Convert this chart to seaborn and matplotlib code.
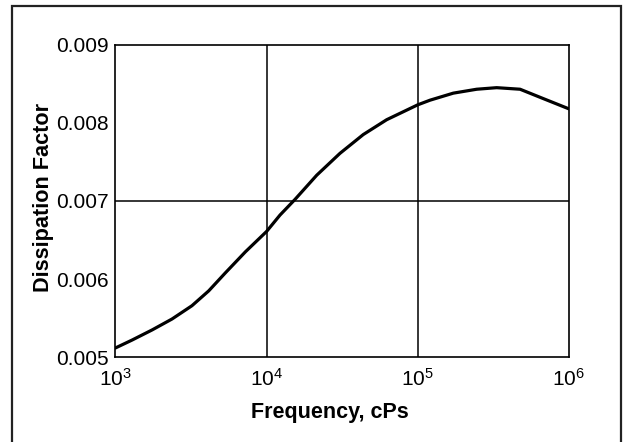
import matplotlib
matplotlib.use("Agg")
import matplotlib.pyplot as plt
from matplotlib.patches import Rectangle
import pandas as pd
import seaborn as sns

# Values
freq = [1000, 1285, 1746, 2366, 3206, 4140, 5333, 7244, 10000, 12270, 15420,
        21480, 30620, 43650, 62370, 100000, 120800, 172200, 246000, 333400,
        476400, 679200, 1000000]
dissipation = [0.00512, 0.00522, 0.00535, 0.00549, 0.00566, 0.00585, 0.00608,
               0.00635, 0.00661, 0.00682, 0.00702, 0.00733, 0.00761, 0.00785,
               0.00804, 0.00823, 0.00829, 0.00838, 0.00843, 0.00845, 0.00843,
               0.00831, 0.00818]

x_ticks = [1e3, 1e4, 1e5, 1e6]
x_tick_labels = [r"$\mathdefault{10^{3}}$", r"$\mathdefault{10^{4}}$",
                 r"$\mathdefault{10^{5}}$", r"$\mathdefault{10^{6}}$"]
y_ticks = [0.005, 0.006, 0.007, 0.008, 0.009]
y_tick_labels = ["0.005", "0.006", "0.007", "0.008", "0.009"]
grid_x = [1e4, 1e5]
grid_y = [0.007]

sns.set_theme(style="white")
plt.rcParams["font.family"] = ["Liberation Sans", "DejaVu Sans"]
plt.rcParams["mathtext.fontset"] = "custom"
plt.rcParams["mathtext.rm"] = "Liberation Sans"

df = pd.DataFrame({"freq": freq, "df": dissipation})

fig = plt.figure(figsize=(6.26, 4.42), dpi=100)
ax = fig.add_axes([0.1845, 0.1916, 0.724, 0.7073])

sns.lineplot(data=df, x="freq", y="df", ax=ax, color="black", linewidth=2.3)
ax.set_xscale("log")
ax.set_xlim(1e3, 1e6)
ax.set_ylim(0.005, 0.009)

for gx in grid_x:
    ax.axvline(gx, color="black", lw=1.1, zorder=1)
for gy in grid_y:
    ax.axhline(gy, color="black", lw=1.1, zorder=1)

ax.set_xticks(x_ticks)
ax.set_xticklabels(x_tick_labels)
ax.minorticks_off()
ax.set_yticks(y_ticks)
ax.set_yticklabels(y_tick_labels)
ax.tick_params(axis="y", direction="in", length=8, width=1.1, color="black",
               labelsize=15, pad=5, labelcolor="black")
ax.tick_params(axis="x", length=0, labelsize=15, pad=7.5, labelcolor="black")

for sp in ax.spines.values():
    sp.set_color("black")
    sp.set_linewidth(1.2)

ax.set_xlabel("Frequency, cPs", fontsize=15.5, fontweight="bold",
              color="black")
ax.set_ylabel("Dissipation Factor", fontsize=15.6, fontweight="bold",
              color="black")
ax.xaxis.set_label_coords(0.473, -0.143)
ax.yaxis.set_label_coords(-0.1357, 0.51)

# outer frame around the figure (bottom edge runs off the image)
fig.patches.append(Rectangle((12 / 626, -0.05), 609 / 626, 1.05 - 6 / 442,
                             transform=fig.transFigure, fill=False,
                             edgecolor="#222222", lw=1.6))

fig.savefig("out.png", dpi=100)
